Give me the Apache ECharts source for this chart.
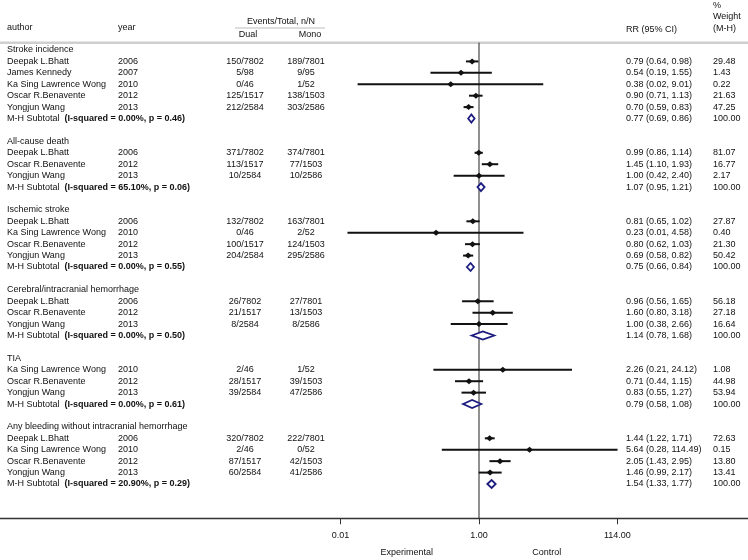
<!DOCTYPE html>
<html><head><meta charset="utf-8">
<script src="https://cdn.jsdelivr.net/npm/echarts@6/dist/echarts.min.js"></script>
<style>html,body{margin:0;padding:0;background:#fff}#c{width:748px;height:560px}</style>
</head><body><div id="c"></div>
<script>
// ---- data ----
const groupNames = ["Stroke incidence","All-cause death","Ischemic stroke","Cerebral/intracranial hemorrhage","TIA","Any bleeding without intracranial hemorrhage"];
const groupI2 = ["0.00","65.10","0.00","0.00","0.00","20.90"];
const groupP = ["0.46","0.06","0.55","0.50","0.61","0.29"];
const groupRR = [0.77,1.07,0.75,1.14,0.79,1.54];
const groupLo = [0.69,0.95,0.66,0.78,0.58,1.33];
const groupHi = [0.86,1.21,0.84,1.68,1.08,1.77];

const studyGroup = [0,0,0,0,0, 1,1,1, 2,2,2,2, 3,3,3, 4,4,4, 5,5,5,5];
const studyAuthor = [
  "Deepak L.Bhatt","James Kennedy","Ka Sing Lawrence Wong","Oscar R.Benavente","Yongjun Wang",
  "Deepak L.Bhatt","Oscar R.Benavente","Yongjun Wang",
  "Deepak L.Bhatt","Ka Sing Lawrence Wong","Oscar R.Benavente","Yongjun Wang",
  "Deepak L.Bhatt","Oscar R.Benavente","Yongjun Wang",
  "Ka Sing Lawrence Wong","Oscar R.Benavente","Yongjun Wang",
  "Deepak L.Bhatt","Ka Sing Lawrence Wong","Oscar R.Benavente","Yongjun Wang"];
const studyYear = ["2006","2007","2010","2012","2013", "2006","2012","2013", "2006","2010","2012","2013", "2006","2012","2013", "2010","2012","2013", "2006","2010","2012","2013"];
const dualEvents = ["150/7802","5/98","0/46","125/1517","212/2584", "371/7802","113/1517","10/2584", "132/7802","0/46","100/1517","204/2584", "26/7802","21/1517","8/2584", "2/46","28/1517","39/2584", "320/7802","2/46","87/1517","60/2584"];
const monoEvents = ["189/7801","9/95","1/52","138/1503","303/2586", "374/7801","77/1503","10/2586", "163/7801","2/52","124/1503","295/2586", "27/7801","13/1503","8/2586", "1/52","39/1503","47/2586", "222/7801","0/52","42/1503","41/2586"];
const studyRR = [0.79,0.54,0.38,0.90,0.70, 0.99,1.45,1.00, 0.81,0.23,0.80,0.69, 0.96,1.60,1.00, 2.26,0.71,0.83, 1.44,5.64,2.05,1.46];
const studyLo = [0.64,0.19,0.0157,0.71,0.59, 0.86,1.10,0.42, 0.65,0.0111,0.62,0.58, 0.56,0.80,0.38, 0.21,0.44,0.55, 1.22,0.28,1.43,0.99];
const studyHi = [0.98,1.55,9.01,1.13,0.83, 1.14,1.93,2.40, 1.02,4.58,1.03,0.82, 1.65,3.18,2.66, 24.12,1.15,1.27, 1.71,114.49,2.95,2.17];
const studyWeight = [29.48,1.43,0.22,21.63,47.25, 81.07,16.77,2.17, 27.87,0.40,21.30,50.42, 56.18,27.18,16.64, 1.08,44.98,53.94, 72.63,0.15,13.80,13.41];
const xTicks = [1/114, 1, 114];

// ---- layout constants ----
const COL = {author:7, year:118, dual:245, mono:306, rr:626, wt:713};
const TXT = '#111';
const FONT = 'Liberation Sans, Arial, sans-serif';

// ---- build rows ----
const textData = [], textInfo = [];
const studyData = [], diamondData = [];
function addText(x, row, text, align, rich){ textData.push([x,row]); textInfo.push({text, align, rich}); }
let row = 0;
groupNames.forEach((g, gi) => {
  addText(COL.author, row, g, 'left');
  let r = row + 1;
  studyGroup.forEach((sg, si) => {
    if (sg !== gi) return;
    addText(COL.author, r, studyAuthor[si], 'left');
    addText(COL.year, r, studyYear[si], 'left');
    addText(COL.dual, r, dualEvents[si], 'center');
    addText(COL.mono, r, monoEvents[si], 'center');
    addText(COL.rr, r, studyRR[si].toFixed(2)+' ('+studyLo[si].toFixed(2)+', '+studyHi[si].toFixed(2)+')', 'left');
    addText(COL.wt, r, studyWeight[si].toFixed(2), 'left');
    studyData.push([studyRR[si], studyLo[si], studyHi[si], r]);
    r++;
  });
  addText(COL.author, r, '{a|M-H Subtotal}  {b|(I-squared = '+groupI2[gi]+'%, p = '+groupP[gi]+')}', 'left', true);
  addText(COL.rr, r, groupRR[gi].toFixed(2)+' ('+groupLo[gi].toFixed(2)+', '+groupHi[gi].toFixed(2)+')', 'left');
  addText(COL.wt, r, '100.00', 'left');
  diamondData.push([groupRR[gi], groupLo[gi], groupHi[gi], r]);
  row = r + 2;
});

const chart = echarts.init(document.getElementById('c'), null, {renderer:'canvas'});
const GT = 38.58, GH = 479.68;
const headerTexts = [
  ['author', COL.author, 27.7, 'left'],
  ['year', COL.year, 27.7, 'left'],
  ['Events/Total, n/N', 281, 21.7, 'center'],
  ['Dual', 248, 34.3, 'center'],
  ['Mono', 310, 34.3, 'center'],
  ['RR (95% CI)', COL.rr, 29.5, 'left'],
  ['%', COL.wt, 5.5, 'left'],
  ['Weight', COL.wt, 17, 'left'],
  ['(M-H)', COL.wt, 28.5, 'left'],
  ['Experimental', 406.7, 553, 'center'],
  ['Control', 546.7, 553, 'center']
];
const graphics = [
  {type:'line', shape:{x1:0,y1:42.7,x2:748,y2:42.7}, style:{stroke:'#cfcfcf', lineWidth:2.5}, z:1},
  {type:'line', shape:{x1:235,y1:28,x2:325,y2:28}, style:{stroke:'#bdbdbd', lineWidth:1}}
];
headerTexts.forEach(h => graphics.push({type:'text', x:h[1], y:h[2], style:{text:h[0], fill:TXT, fontSize:9, fontFamily:FONT, align:h[3], verticalAlign:'middle'}}));

chart.setOption({
  animation:false,
  backgroundColor:'#fff',
  grid:[
    {left:337.9, width:282.2, top:GT, height:GH},
    {left:0, width:748, top:GT, height:GH}
  ],
  xAxis:[
    {type:'log', gridIndex:0, logBase:10, min:0.008, max:125,
     axisLine:{show:false, onZero:false}, splitLine:{show:false},
     axisTick:{show:true, customValues:xTicks, length:6, lineStyle:{color:'#333', width:1}},
     axisLabel:{show:true, customValues:xTicks, margin:13, fontSize:9, fontFamily:FONT, color:TXT, formatter:v => (+v).toFixed(2)}},
    {type:'value', gridIndex:1, min:0, max:748,
     axisLine:{show:true, onZero:false, lineStyle:{color:'#333', width:1.3}},
     axisTick:{show:false}, axisLabel:{show:false}, splitLine:{show:false}}
  ],
  yAxis:[
    {type:'value', gridIndex:0, min:-1, max:41, inverse:true, show:false},
    {type:'value', gridIndex:1, min:-1, max:41, inverse:true, show:false}
  ],
  graphic: graphics,
  series:[
    {type:'custom', name:'ref', xAxisIndex:0, yAxisIndex:0, data:[[1, -0.64, 41]],
     encode:{x:0, y:[1,2]},
     renderItem:(p, api) => {
       const a = api.coord([api.value(0), api.value(1)]);
       const b = api.coord([api.value(0), api.value(2)]);
       return {type:'line', shape:{x1:a[0],y1:a[1],x2:b[0],y2:b[1]}, style:{stroke:'#222', lineWidth:1}};
     }},
    {type:'custom', name:'studies', xAxisIndex:0, yAxisIndex:0, data:studyData,
     encode:{x:[0,1,2], y:3},
     renderItem:(p, api) => {
       const y = api.value(3);
       const c = api.coord([api.value(0), y]);
       const l = api.coord([api.value(1), y]);
       const h = api.coord([api.value(2), y]);
       return {type:'group', children:[
         {type:'line', shape:{x1:l[0],y1:l[1],x2:h[0],y2:h[1]}, style:{stroke:'#111', lineWidth:2}},
         {type:'polygon', shape:{points:[[c[0]-3.5,c[1]],[c[0],c[1]-3],[c[0]+3.5,c[1]],[c[0],c[1]+3]]}, style:{fill:'#111'}}
       ]};
     }},
    {type:'custom', name:'subtotals', xAxisIndex:0, yAxisIndex:0, data:diamondData,
     encode:{x:[0,1,2], y:3},
     renderItem:(p, api) => {
       const y = api.value(3);
       const c = api.coord([api.value(0), y]);
       const l = api.coord([api.value(1), y]);
       const h = api.coord([api.value(2), y]);
       return {type:'polygon', shape:{points:[[l[0],c[1]],[c[0],c[1]-4],[h[0],c[1]],[c[0],c[1]+4]]},
               style:{fill:'#fff', stroke:'#1c1c80', lineWidth:1.8}};
     }},
    {type:'custom', name:'text', xAxisIndex:1, yAxisIndex:1, data:textData,
     encode:{x:0, y:1},
     renderItem:(p, api) => {
       const info = textInfo[p.dataIndex];
       const pt = api.coord([api.value(0), api.value(1)]);
       const style = {text:info.text, x:pt[0], y:pt[1], fill:TXT, fontSize:9, fontFamily:FONT, align:info.align, verticalAlign:'middle'};
       if (info.rich) style.rich = {a:{fontSize:9, fontFamily:FONT, fill:TXT}, b:{fontSize:9, fontFamily:FONT, fill:TXT, fontWeight:'bold'}};
       return {type:'text', style};
     }}
  ]
});
</script></body></html>
